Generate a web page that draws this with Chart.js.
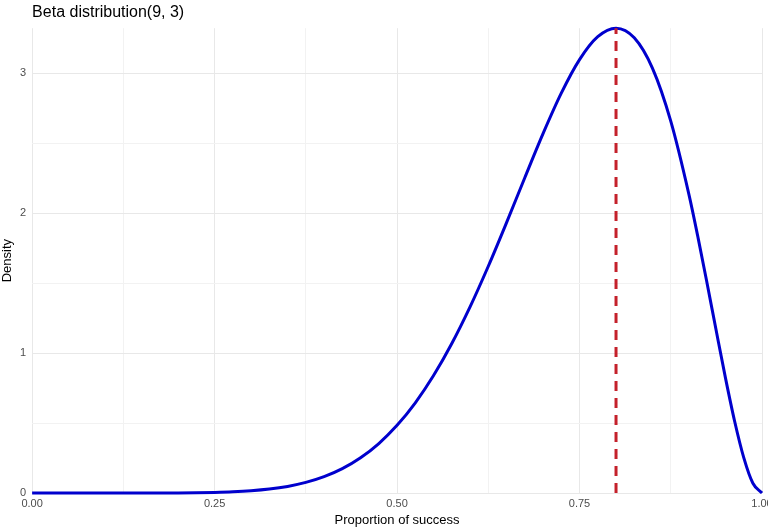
<!DOCTYPE html>
<html>
<head>
<meta charset="utf-8">
<script src="https://cdn.jsdelivr.net/npm/chart.js@4.4.1/dist/chart.umd.min.js"></script>
<style>
  html, body { margin: 0; padding: 0; background: #fff; overflow: hidden; }
  canvas { display: block; }
</style>
</head>
<body>
<canvas id="chart" width="790" height="529"></canvas>
<script>
// proportion of success (x) and density
const proportions = [0, 0.025, 0.05, 0.075, 0.1, 0.125, 0.15, 0.175, 0.2, 0.225,
  0.25, 0.275, 0.3, 0.325, 0.35, 0.375, 0.4, 0.425, 0.45, 0.475,
  0.5, 0.525, 0.55, 0.575, 0.6, 0.625, 0.65, 0.675, 0.7, 0.725,
  0.75, 0.775, 0.8, 0.825, 0.85, 0.875, 0.9, 0.9125, 0.925, 0.9375,
  0.95, 0.9625, 0.975, 0.9875, 1];
const densities = [0, 0, 0, 0, 0, 0, 0.0001, 0.0003, 0.0008, 0.002,
  0.0043, 0.0085, 0.0159, 0.0281, 0.0471, 0.0756, 0.1168, 0.1742, 0.2518, 0.3536,
  0.4834, 0.6446, 0.8393, 1.0684, 1.3303, 1.6207, 1.9322, 2.2532, 2.5682, 2.8575,
  3.0972, 3.2612, 3.322, 3.2532, 3.0349, 2.6576, 2.1308, 1.8218, 1.4923, 1.1538,
  0.821, 0.5127, 0.2527, 0.0699, 0];

// mode marker
const modeX = [0.8, 0.8];
const modeY = [0, 3.322];

const xTickValues = [0, 0.125, 0.25, 0.375, 0.5, 0.625, 0.75, 0.875, 1];
const xTickLabels = ['0.00', '', '0.25', '', '0.50', '', '0.75', '', '1.00'];
const yTickValues = [0, 0.5, 1, 1.5, 2, 2.5, 3];
const yTickLabels = ['0', '', '1', '', '2', '', '3'];

const curve = proportions.map((x, i) => ({ x: x, y: densities[i] }));
const modeLine = modeX.map((x, i) => ({ x: x, y: modeY[i] }));

const gridColor = (ctx) => {
  const major = ctx.tick && ctx.tick.label !== '';
  return major ? '#e8e8e8' : '#f2f2f2';
};

const ctx = document.getElementById('chart').getContext('2d');

new Chart(ctx, {
  type: 'line',
  data: {
    datasets: [
      {
        data: curve,
        borderColor: '#0000CD',
        borderWidth: 3,
        pointRadius: 0,
        cubicInterpolationMode: 'monotone',
        clip: false,
        order: 2
      },
      {
        data: modeLine,
        borderColor: '#C4212B',
        borderWidth: 3,
        borderDash: [10, 7],
        pointRadius: 0,
        clip: false,
        order: 1
      }
    ]
  },
  options: {
    responsive: false,
    animation: false,
    layout: { padding: { left: 1, right: 28, top: 0, bottom: 2 } },
    plugins: {
      legend: { display: false },
      tooltip: { enabled: false },
      title: {
        display: true,
        text: 'Beta distribution(9, 3)',
        align: 'start',
        fullSize: false,
        color: '#000',
        font: { family: 'Liberation Sans, Arial, sans-serif', size: 16, weight: 'normal' },
        padding: { top: 3, bottom: 6 }
      }
    },
    scales: {
      x: {
        type: 'linear',
        min: 0,
        max: 1,
        afterBuildTicks: (scale) => {
          scale.ticks = xTickValues.map(v => ({ value: v }));
        },
        ticks: {
          autoSkip: false,
          maxRotation: 0,
          padding: 5,
          color: '#4D4D4D',
          font: { family: 'Liberation Sans, Arial, sans-serif', size: 11, lineHeight: 1 },
          callback: (v) => {
            const i = xTickValues.indexOf(v);
            return i >= 0 ? xTickLabels[i] : '';
          }
        },
        grid: { color: gridColor, lineWidth: 1, drawTicks: false },
        border: { display: false },
        title: {
          display: true,
          text: 'Proportion of success',
          color: '#000',
          font: { family: 'Liberation Sans, Arial, sans-serif', size: 13, lineHeight: 1 },
          padding: { top: 0, bottom: 0 }
        }
      },
      y: {
        type: 'linear',
        min: 0,
        max: 3.322,
        afterBuildTicks: (scale) => {
          scale.ticks = yTickValues.map(v => ({ value: v }));
        },
        ticks: {
          autoSkip: false,
          padding: 6,
          color: '#4D4D4D',
          font: { family: 'Liberation Sans, Arial, sans-serif', size: 11 },
          callback: (v) => {
            const i = yTickValues.indexOf(v);
            return i >= 0 ? yTickLabels[i] : '';
          }
        },
        grid: { color: gridColor, lineWidth: 1, drawTicks: false },
        border: { display: false },
        title: {
          display: true,
          text: 'Density',
          color: '#000',
          font: { family: 'Liberation Sans, Arial, sans-serif', size: 13, lineHeight: 1 },
          padding: { top: 0, bottom: 0 }
        }
      }
    }
  }
});
</script>
</body>
</html>
